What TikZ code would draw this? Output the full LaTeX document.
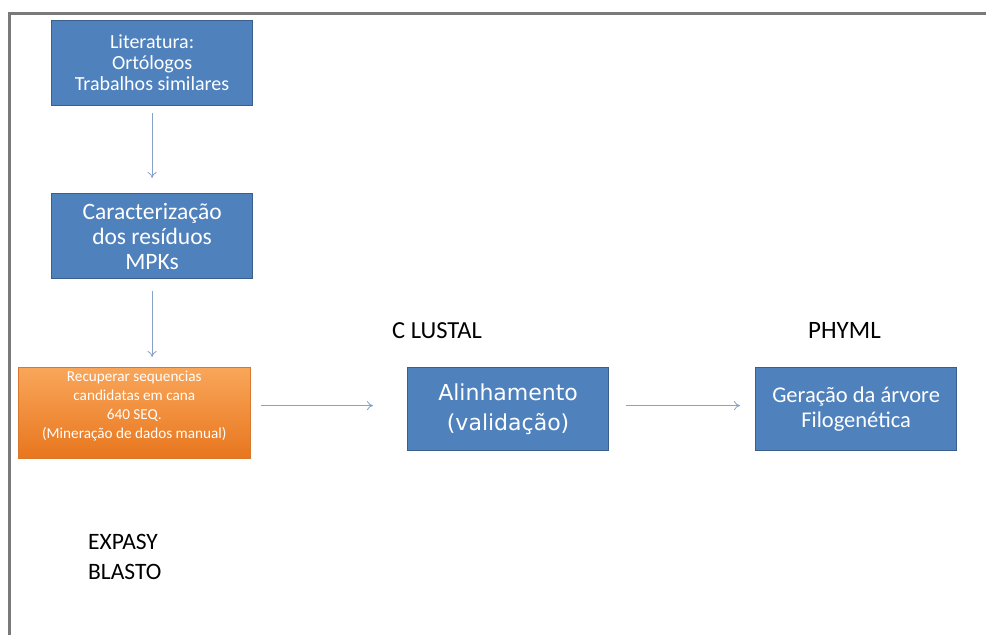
\documentclass[tikz,border=0pt]{standalone}
\usepackage{fontspec}
\setmainfont{Carlito}
\newfontfamily\verdanalike{DejaVu Sans}
\usetikzlibrary{arrows.meta}
\definecolor{boxblue}{HTML}{4F81BD}
\definecolor{boxedge}{HTML}{3A5F8C}
\definecolor{orangetop}{HTML}{F9A65A}
\definecolor{orangebot}{HTML}{E8761E}
\definecolor{orangeedge}{HTML}{D8782E}
\definecolor{arrowcol}{HTML}{86A2C6}
\definecolor{framecol}{HTML}{7A7A7A}
\tikzset{
  bluebox/.style={draw=boxedge, line width=1.2pt, fill=boxblue, text=white,
    align=center, inner sep=0pt, anchor=north west},
  orangebox/.style={draw=orangeedge, line width=0.6pt, top color=orangetop,
    bottom color=orangebot, text=white, align=center, inner sep=0pt, anchor=north west},
  flow/.style={draw=arrowcol, line width=0.8pt, -{To[length=6pt,width=9pt]}},
  tool/.style={anchor=north west, align=left, text=black, inner sep=0pt}
}
\begin{document}
\begin{tikzpicture}[x=1pt, y=-1pt]
\useasboundingbox (0,0) rectangle (986,635);
\fill[white] (0,0) rectangle (986,635);
% outer frame (left and top edges)
\draw[framecol, line width=2.2pt] (9.5,640) -- (9.5,13.5) -- (990,13.5);

% process boxes
\node[bluebox, minimum width=201pt, minimum height=85pt,
  font=\fontsize{20}{21}\selectfont] (lit) at (51,20)
  {Literatura:\\Ortólogos\\Trabalhos similares};
\node[bluebox, minimum width=201pt, minimum height=85pt,
  font=\fontsize{23.5}{25}\selectfont] (carac) at (51,193)
  {Caracterização\\dos resíduos\\MPKs};
\node[orangebox, minimum width=232pt, minimum height=91pt,
  font=\fontsize{15.2}{19}\selectfont] (recup) at (18,367)
  {Recuperar sequencias\\candidatas em cana\\640 SEQ.\\(Mineração de dados manual)\\[-2pt]\mbox{}};
\node[bluebox, minimum width=201pt, minimum height=83pt,
  font=\verdanalike\fontsize{22}{30}\selectfont] (alin) at (407,367)
  {Alinhamento\\(validação)};
\node[bluebox, minimum width=201pt, minimum height=83pt,
  font=\fontsize{22.5}{25}\selectfont] (arv) at (755,367)
  {Geração da árvore\\Filogenética};

% tool labels
\node[tool, font=\fontsize{24.5}{26}\selectfont] (clustal) at (392,322) {C LUSTAL};
\node[tool, font=\fontsize{25}{26}\selectfont] (phyml) at (808,322) {PHYML};
\node[tool, font=\fontsize{23.5}{30}\selectfont] (expasy) at (88,534) {EXPASY\\BLASTO};

% connectors
\draw[flow] ([yshift=-7pt]lit.south) -- ([yshift=15pt]carac.north);
\draw[flow] ([yshift=-12pt]carac.south) -- ([yshift=10pt]recup.north -| carac.south);
\draw[flow] ([xshift=10pt,yshift=3.5pt]alin.west -| recup.east) -- ([xshift=-34pt,yshift=3.5pt]alin.west);
\draw[flow] ([xshift=17pt,yshift=3.5pt]alin.east) -- ([xshift=-15pt,yshift=3.5pt]arv.west);
\end{tikzpicture}
\end{document}
